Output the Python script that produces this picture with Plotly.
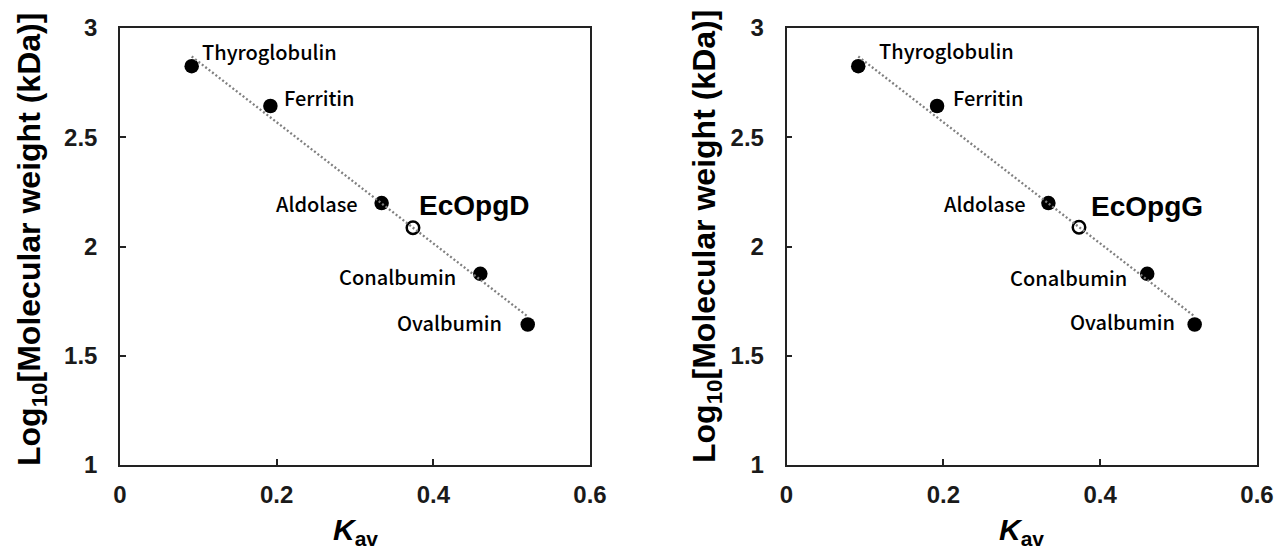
import numpy as np
import plotly.graph_objects as go

# ---------------- data ----------------
standards = ["Thyroglobulin", "Ferritin", "Aldolase", "Conalbumin", "Ovalbumin"]
kav_std = [0.0915, 0.192, 0.334, 0.460, 0.5205]
logmw_std = [2.825, 2.643, 2.199, 1.875, 1.643]

samples = ["EcOpgD", "EcOpgG"]
kav_sample = [0.374, 0.373]
logmw_sample = [2.086, 2.088]

x_ticks = [0, 0.2, 0.4, 0.6]
x_ticklabels = ["0", "0.2", "0.4", "0.6"]
y_ticks = [1, 1.5, 2, 2.5, 3]
y_ticklabels = ["1", "1.5", "2", "2.5", "3"]

# calibration line from the standards
slope, intercept = np.polyfit(kav_std, logmw_std, 1)
line_x = [min(kav_std), max(kav_std)]
line_y = [slope * v + intercept for v in line_x]

# ---------------- layout constants ----------------
W, H = 1278, 556
TOP, BOTTOM = 28, 465
panels = [(120, 590), (786.5, 1257)]
ytitle_x = [31, 706]
ytitle_y = [240, 237]
xtitle_y = 531

# label offsets (pixels) per panel: (anchor, xshift, yshift)
label_style = [
    [("left", 8, 15), ("left", 12, 9), ("right", -22, 0), ("right", -22, -3), ("right", -24, 2)],
    [("left", 19, 16), ("left", 14, 9), ("right", -20, 0), ("right", -18, -4), ("right", -18, 3)],
]
sample_shift = [(4, 22), (10, 21)]

AXIS_FONT = "Liberation Sans, Arial, sans-serif"
LABEL_FONT = "Noto Sans CJK JP, Noto Sans, sans-serif"

fig = go.Figure()
annotations = []

for i, (x0, x1) in enumerate(panels):
    xa = "x" if i == 0 else "x2"
    ya = "y" if i == 0 else "y2"
    # standards (filled)
    fig.add_trace(go.Scatter(
        x=kav_std, y=logmw_std, mode="markers", xaxis=xa, yaxis=ya,
        marker=dict(size=14.5, color="black", line=dict(width=0)),
        showlegend=False, hoverinfo="skip"))
    # sample (open)
    fig.add_trace(go.Scatter(
        x=[kav_sample[i]], y=[logmw_sample[i]], mode="markers", xaxis=xa, yaxis=ya,
        marker=dict(size=12.5, color="white", line=dict(width=2.5, color="black")),
        showlegend=False, hoverinfo="skip"))
    # dotted calibration line on top
    fig.add_trace(go.Scatter(
        x=line_x, y=line_y, mode="lines", xaxis=xa, yaxis=ya,
        line=dict(color="#808080", width=2.3, dash="2px,2.3px"),
        showlegend=False, hoverinfo="skip"))

    for name, kx, ky, (anc, xs, ys) in zip(standards, kav_std, logmw_std, label_style[i]):
        annotations.append(dict(
            x=kx, y=ky, xref=xa, yref=ya, text=name, showarrow=False,
            xanchor=anc, yanchor="middle", xshift=xs, yshift=ys,
            font=dict(family=LABEL_FONT, size=20, color="black", weight=500)))
    annotations.append(dict(
        x=kav_sample[i], y=logmw_sample[i], xref=xa, yref=ya,
        text="<b>%s</b>" % samples[i], showarrow=False,
        xanchor="left", yanchor="middle",
        xshift=sample_shift[i][0], yshift=sample_shift[i][1],
        font=dict(family=AXIS_FONT, size=28, color="black")))
    # y title
    annotations.append(dict(
        x=ytitle_x[i] / W, y=1 - ytitle_y[i] / H, xref="paper", yref="paper",
        text="<b>Log<sub>10</sub>[Molecular weight (kDa)]</b>", textangle=-90,
        showarrow=False, xanchor="center", yanchor="middle",
        font=dict(family=AXIS_FONT, size=32, color="black")))
    # x title
    annotations.append(dict(
        x=(x0 + x1) / 2 / W, y=1 - xtitle_y / H, xref="paper", yref="paper",
        text="<b><i>K</i><sub>av</sub></b>", showarrow=False,
        xanchor="center", yanchor="middle",
        font=dict(family=AXIS_FONT, size=30, color="black")))

axis_common = dict(
    showline=True, mirror=True, linecolor="#222", linewidth=1.5,
    ticks="inside", ticklen=6, tickwidth=1.5, tickcolor="#222",
    showgrid=False, zeroline=False, automargin=False,
    tickfont=dict(family=AXIS_FONT, size=24, color="#1a1a1a", weight="bold"),
)

ydom = [1 - BOTTOM / H, 1 - TOP / H]
layout = dict(
    width=W, height=H, margin=dict(l=0, r=0, t=0, b=0, pad=0, autoexpand=False),
    paper_bgcolor="white", plot_bgcolor="white",
    annotations=annotations,
)
for i, (x0, x1) in enumerate(panels):
    sx = "" if i == 0 else "2"
    layout["xaxis" + sx] = dict(
        axis_common, domain=[x0 / W, x1 / W], range=[0, 0.6],
        tickvals=x_ticks, ticktext=x_ticklabels, anchor="y" + sx,
        ticklabelstandoff=7)
    layout["yaxis" + sx] = dict(
        axis_common, domain=ydom, range=[1, 3],
        tickvals=y_ticks, ticktext=y_ticklabels, anchor="x" + sx,
        ticklabelstandoff=16)

fig.update_layout(**layout)
fig.write_html("out.html")
